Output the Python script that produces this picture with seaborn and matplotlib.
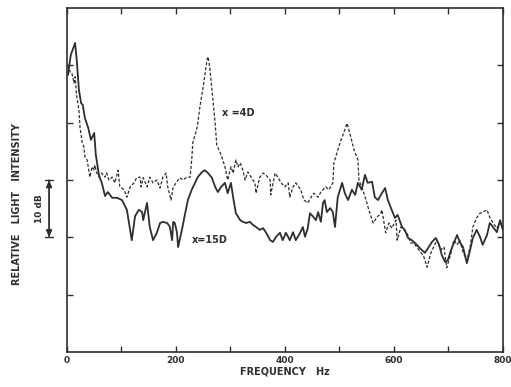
"""Relative light intensity spectra at x=4D and x=15D."""

import matplotlib
matplotlib.use("Agg")
import matplotlib.pyplot as plt
import matplotlib.transforms as mtransforms
import pandas as pd
import seaborn as sns

sns.set_theme(style="ticks")
plt.rcParams["font.family"] = ["DejaVu Sans"]

# x = 15D (solid)
freq_15d = [2, 7, 15, 18, 22, 26, 29, 33, 39, 44, 50, 53, 59, 64, 70, 75, 83, 92,
            101, 110, 116, 119, 125, 132, 138, 140, 147, 152, 158, 165, 171, 176,
            184, 189, 193, 195, 198, 202, 204, 211, 217, 222, 229, 235, 240, 248,
            253, 259, 266, 272, 277, 283, 290, 295, 301, 305, 310, 318, 323, 329,
            336, 341, 347, 354, 360, 365, 373, 378, 384, 391, 396, 402, 409, 415,
            420, 428, 433, 437, 442, 446, 451, 457, 461, 466, 470, 473, 477, 483,
            488, 492, 497, 505, 510, 516, 523, 529, 534, 541, 547, 552, 560, 565,
            571, 578, 584, 589, 596, 602, 607, 615, 620, 626, 633, 639, 646, 651,
            657, 664, 670, 677, 683, 688, 694, 699, 705, 710, 716, 721, 727, 734,
            740, 745, 752, 758, 763, 771, 776, 782, 789, 795, 800]
db_15d = [48.3, 51.8, 53.9, 50.9, 45.7, 43.4, 43.1, 40.8, 39.1, 37.0, 38.2, 34.4,
          30.7, 29.5, 27.2, 27.9, 26.9, 26.9, 26.5, 24.8, 21.3, 19.5, 23.7, 24.8,
          24.4, 23.0, 26.0, 21.8, 19.5, 20.8, 22.5, 22.7, 22.5, 21.8, 19.5, 22.7,
          22.5, 20.8, 18.3, 21.3, 24.2, 26.5, 28.3, 29.5, 30.5, 31.4, 31.7, 31.2,
          30.4, 28.8, 27.9, 28.8, 29.5, 27.7, 29.5, 27.0, 24.2, 23.0, 22.7, 22.5,
          22.7, 22.2, 21.8, 21.3, 21.6, 20.9, 19.5, 19.2, 20.1, 20.8, 19.5, 20.8,
          19.5, 20.9, 19.5, 20.8, 21.8, 20.1, 21.6, 24.2, 23.7, 23.0, 24.4, 22.7,
          26.0, 26.5, 24.4, 25.1, 24.4, 21.8, 27.0, 29.5, 27.7, 26.5, 28.3, 27.4,
          29.5, 28.3, 30.9, 29.5, 29.7, 27.0, 26.5, 27.7, 28.6, 26.5, 24.8, 23.4,
          23.9, 21.8, 21.3, 19.9, 19.5, 19.0, 18.3, 17.8, 17.3, 18.3, 19.2, 19.9,
          18.7, 16.9, 15.7, 16.0, 17.8, 19.0, 20.4, 19.2, 18.3, 15.5, 17.8, 19.9,
          21.3, 20.1, 18.7, 20.4, 22.5, 21.8, 20.9, 23.0, 21.3]

# x = 4D (dashed)
freq_4d = [2, 6, 9, 13, 15, 18, 22, 24, 28, 31, 33, 37, 40, 42, 46, 50, 51, 55,
           59, 64, 70, 73, 77, 83, 88, 94, 97, 105, 110, 116, 123, 128, 134, 136,
           140, 147, 152, 158, 165, 171, 176, 182, 185, 191, 195, 202, 207, 213,
           220, 226, 229, 231, 239, 244, 250, 257, 259, 262, 268, 272, 275, 279,
           283, 290, 295, 301, 305, 310, 314, 318, 323, 327, 332, 338, 345, 347,
           354, 360, 365, 373, 374, 382, 387, 393, 400, 406, 409, 415, 420, 429,
           435, 442, 448, 453, 461, 466, 475, 481, 488, 490, 497, 503, 508, 514,
           521, 527, 534, 536, 543, 549, 554, 562, 569, 576, 578, 582, 585, 591,
           596, 604, 606, 613, 618, 624, 631, 637, 642, 650, 655, 661, 668, 673,
           679, 686, 692, 697, 705, 710, 716, 721, 727, 734, 740, 745, 752, 758,
           763, 771, 776, 782, 789, 795, 800]
db_4d = [50.1, 48.8, 48.7, 46.9, 48.0, 44.5, 42.2, 39.2, 36.5, 35.8, 34.0, 33.5,
         31.7, 30.5, 32.3, 31.7, 32.6, 31.2, 30.5, 31.2, 30.5, 31.2, 30.0, 30.5,
         29.5, 31.7, 28.8, 28.3, 27.0, 28.8, 29.5, 30.4, 30.5, 28.8, 30.4, 28.8,
         30.5, 29.5, 30.0, 28.6, 30.5, 31.2, 28.8, 26.5, 28.8, 29.7, 30.4, 30.0,
         30.5, 30.5, 33.5, 36.5, 39.2, 42.7, 46.2, 50.9, 51.5, 49.7, 44.0, 39.9,
         36.1, 35.2, 34.4, 32.3, 30.0, 32.3, 31.2, 33.5, 32.3, 33.0, 31.7, 30.0,
         31.4, 30.5, 29.5, 27.7, 30.5, 31.2, 30.9, 30.0, 27.4, 31.2, 30.5, 29.5,
         28.8, 29.5, 27.0, 28.8, 29.5, 28.3, 26.5, 26.0, 27.0, 27.7, 27.0, 27.9,
         28.8, 28.3, 29.5, 33.0, 35.2, 37.0, 38.2, 39.9, 37.5, 35.2, 33.5, 30.0,
         28.3, 26.5, 24.8, 22.5, 23.5, 24.2, 24.8, 22.5, 20.8, 22.5, 21.6, 23.0,
         19.5, 21.8, 21.3, 20.8, 19.0, 19.0, 18.3, 17.3, 16.6, 14.8, 17.3, 18.3,
         19.5, 17.8, 18.3, 14.7, 17.3, 19.5, 18.7, 19.5, 17.4, 16.0, 18.3, 21.8,
         23.4, 24.2, 24.4, 24.8, 23.5, 22.5, 21.6, 22.5, 21.8]

x_ticks = [0, 100, 200, 300, 400, 500, 600, 700, 800]
x_tick_labels = ["0", "", "200", "", "400", "", "600", "", "800"]
y_ticks = [10, 20, 30, 40, 50]

ink = "#2e2e2e"
df_15d = pd.DataFrame({"freq": freq_15d, "db": db_15d})
df_4d = pd.DataFrame({"freq": freq_4d, "db": db_4d})

fig = plt.figure(figsize=(5.11, 3.87), dpi=100)
ax = fig.add_axes([0.131, 0.0904, 0.853, 0.889])

sns.lineplot(data=df_15d, x="freq", y="db", ax=ax, color=ink, linewidth=1.3,
             estimator=None, sort=False)
sns.lineplot(data=df_4d, x="freq", y="db", ax=ax, color=ink, linewidth=0.9,
             linestyle=(0, (2.5, 1.5)), estimator=None, sort=False)

ax.set_xlim(0, 800)
ax.set_ylim(0, 60)
ax.set_xticks(x_ticks)
ax.set_xticklabels(x_tick_labels, fontsize=6.5, fontweight="bold", color=ink)
ax.set_yticks(y_ticks)
ax.set_yticklabels([])
ax.tick_params(direction="in", length=4, width=1, color=ink, top=True, right=True,
               pad=3)
for sp in ax.spines.values():
    sp.set_color(ink)
    sp.set_linewidth(1.2)

ax.set_xlabel("FREQUENCY   Hz", fontsize=7, fontweight="bold", color=ink,
              labelpad=1)
ax.set_ylabel("RELATIVE   LIGHT   INTENSITY", fontsize=7, fontweight="bold",
              color=ink)
ax.yaxis.set_label_coords(-0.103, 0.43)

ax.text(284, 41.7, "x =4D", fontsize=7, fontweight="bold", color=ink, va="center")
ax.text(229, 19.5, "x=15D", fontsize=7, fontweight="bold", color=ink, va="center")

# 10 dB scale bar left of the axis
trans = mtransforms.blended_transform_factory(ax.transAxes, ax.transData)
ax.annotate("", xy=(-0.041, 30), xytext=(-0.041, 20), xycoords=trans,
            textcoords=trans, annotation_clip=False,
            arrowprops=dict(arrowstyle="|-|,widthA=0.25,widthB=0.25",
                            color=ink, linewidth=1, shrinkA=0, shrinkB=0))
ax.annotate("", xy=(-0.041, 30), xytext=(-0.041, 25), xycoords=trans,
            textcoords=trans, annotation_clip=False,
            arrowprops=dict(arrowstyle="-|>,head_length=0.35,head_width=0.15",
                            color=ink, linewidth=1, shrinkA=0, shrinkB=0))
ax.annotate("", xy=(-0.041, 20), xytext=(-0.041, 25), xycoords=trans,
            textcoords=trans, annotation_clip=False,
            arrowprops=dict(arrowstyle="-|>,head_length=0.35,head_width=0.15",
                            color=ink, linewidth=1, shrinkA=0, shrinkB=0))
ax.text(-0.062, 25, "10 dB", transform=trans, rotation=90, fontsize=6.5,
        fontweight="bold", color=ink, ha="center", va="center")

fig.savefig("out.png", dpi=100)
plt.close(fig)
